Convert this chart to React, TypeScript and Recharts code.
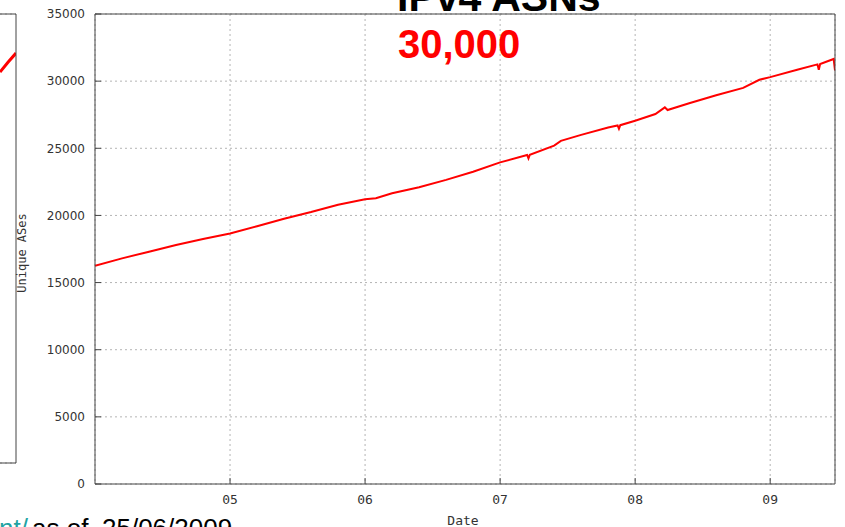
import React from 'react';
import { LineChart, Line, XAxis, YAxis, CartesianGrid } from 'recharts';

// Main chart: unique ASes over time (x = fractional year)
const dateYears = [
  2004.0, 2004.2, 2004.4, 2004.6, 2004.8,
  2005.0, 2005.2, 2005.4, 2005.6, 2005.8,
  2006.0, 2006.08, 2006.2, 2006.4, 2006.6, 2006.8,
  2007.0, 2007.2, 2007.21, 2007.22, 2007.4, 2007.45, 2007.6, 2007.8, 2007.87, 2007.88, 2007.89,
  2008.0, 2008.15, 2008.22, 2008.24, 2008.4, 2008.6, 2008.8, 2008.92,
  2009.0, 2009.2, 2009.35, 2009.36, 2009.37, 2009.47, 2009.48,
];
const uniqueASes = [
  16250, 16800, 17300, 17800, 18250,
  18650, 19200, 19750, 20250, 20800,
  21200, 21280, 21650, 22100, 22650, 23250,
  23950, 24500, 24250, 24520, 25200, 25550, 26000, 26550, 26700, 26450, 26720,
  27050, 27550, 28050, 27850, 28350, 28950, 29500, 30100,
  30300, 30850, 31250, 30850, 31280, 31650, 30800,
];
const yTicks = [0, 5000, 10000, 15000, 20000, 25000, 30000, 35000];
const xTicks = [2005, 2006, 2007, 2008, 2009];
const xTickLabels = ['05', '06', '07', '08', '09'];
const xDomain = [2004, 2009.48];
const yDomain = [0, 35000];

// Fragment of the neighbouring chart visible at the left edge
const prevPanelX = [0, 0.5, 1];
const prevPanelValues = [6980, 7150, 7310];
const prevPanelTicks = [1000, 2000, 3000, 4000, 5000, 6000, 7000];
const prevPanelDomain = [180, 7990];

const data = dateYears.map((d, i) => ({ date: d, ases: uniqueASes[i] }));
const prevData = prevPanelX.map((x, i) => ({ x, v: prevPanelValues[i] }));

const AXIS = '#444';
const GRID = '#b4b4b4';
const MONO = '"DejaVu Sans Mono", monospace';

const YLabel = (props: any) => {
  const vb = props.viewBox || { x: 0, y: 14, width: 95, height: 470 };
  const cx = vb.x + 22;
  const cy = vb.y + vb.height / 2 + 4;
  return (
    <text
      x={cx}
      y={cy}
      transform={`rotate(-90 ${cx} ${cy})`}
      textAnchor="middle"
      dominantBaseline="central"
      fontFamily={MONO}
      fontSize={12}
      fill="#333"
    >
      Unique ASes
    </text>
  );
};

const XLabel = (props: any) => {
  const vb = props.viewBox || { x: 95, y: 484, width: 740, height: 43 };
  return (
    <text
      x={vb.x + vb.width / 2 - 2}
      y={vb.y + vb.height - 2}
      textAnchor="middle"
      fontFamily={MONO}
      fontSize={13}
      fill="#333"
    >
      Date
    </text>
  );
};

export default function App() {
  return (
    <div
      style={{
        position: 'absolute',
        left: 0,
        top: 0,
        width: 845,
        height: 527,
        overflow: 'hidden',
        background: '#fff',
      }}
    >
      <div style={{ position: 'absolute', left: 0, top: 0 }}>
        <LineChart width={17} height={464} data={prevData} margin={{ top: 0, right: 0, left: 0, bottom: 0 }}>
          <CartesianGrid vertical={false} stroke={GRID} strokeDasharray="2 3" />
          <XAxis dataKey="x" type="number" domain={[0, 1]} height={1} tick={false} tickLine={false} stroke={AXIS} allowDataOverflow />
          <XAxis xAxisId="t" orientation="top" type="number" domain={[0, 1]} height={14} tick={false} tickLine={false} stroke={AXIS} allowDataOverflow />
          <YAxis
            orientation="right"
            type="number"
            domain={prevPanelDomain}
            ticks={prevPanelTicks}
            width={1}
            tickSize={-5}
            tick={false}
            stroke={AXIS}
            allowDataOverflow
          />
          <Line dataKey="v" type="linear" stroke="#ff0000" strokeWidth={3} dot={false} isAnimationActive={false} />
        </LineChart>
      </div>

      <div style={{ position: 'absolute', left: 0, top: 0 }}>
        <LineChart width={845} height={527} data={data} margin={{ top: 0, right: 0, left: 0, bottom: 0 }}>
          <CartesianGrid stroke={GRID} strokeDasharray="2 3" />
          <XAxis
            dataKey="date"
            type="number"
            domain={xDomain}
            ticks={xTicks}
            tickFormatter={(v: number) => xTickLabels[xTicks.indexOf(v)] ?? ''}
            height={43}
            tickSize={-6}
            tickMargin={17}
            stroke={AXIS}
            tick={{ fill: '#333', fontFamily: MONO, fontSize: 13 }}
            allowDataOverflow
            label={<XLabel />}
          />
          <XAxis
            xAxisId="top"
            orientation="top"
            type="number"
            domain={xDomain}
            ticks={xTicks}
            height={14}
            tickSize={-6}
            tick={false}
            stroke={AXIS}
            allowDataOverflow
          />
          <YAxis
            type="number"
            domain={yDomain}
            ticks={yTicks}
            width={95}
            tickSize={-6}
            tickMargin={16}
            stroke={AXIS}
            tick={{ fill: '#333', fontFamily: '"DejaVu Sans", sans-serif', fontSize: 12 }}
            allowDataOverflow
            label={<YLabel />}
          />
          <YAxis
            yAxisId="right"
            orientation="right"
            type="number"
            domain={yDomain}
            ticks={yTicks}
            width={10}
            tickSize={-6}
            tick={false}
            stroke={AXIS}
            allowDataOverflow
          />
          <Line dataKey="ases" type="linear" stroke="#ff0000" strokeWidth={2} dot={false} isAnimationActive={false} />
        </LineChart>
      </div>

      <svg
        width={845}
        height={527}
        style={{ position: 'absolute', left: 0, top: 0, pointerEvents: 'none' }}
      >
        <text x={397} y={11} fontFamily='"Liberation Sans", Arial, sans-serif' fontWeight="bold" fontSize={41} fill="#000">
          IPv4 ASNs
        </text>
        <text x={398} y={58} fontFamily='"Liberation Sans", Arial, sans-serif' fontWeight="bold" fontSize={40} fill="#ff0000">
          30,000
        </text>
        <text x={-1} y={537} fontFamily='"Liberation Sans", Arial, sans-serif' fontSize={26} fill="#1fa3a3">
          nt/
        </text>
        <text x={32} y={537} fontFamily='"Liberation Sans", Arial, sans-serif' fontSize={26} fill="#000">
          as of
        </text>
        <text x={102} y={537} fontFamily='"Liberation Sans", Arial, sans-serif' fontSize={26} fill="#000">
          25/06/2009
        </text>
      </svg>
    </div>
  );
}
